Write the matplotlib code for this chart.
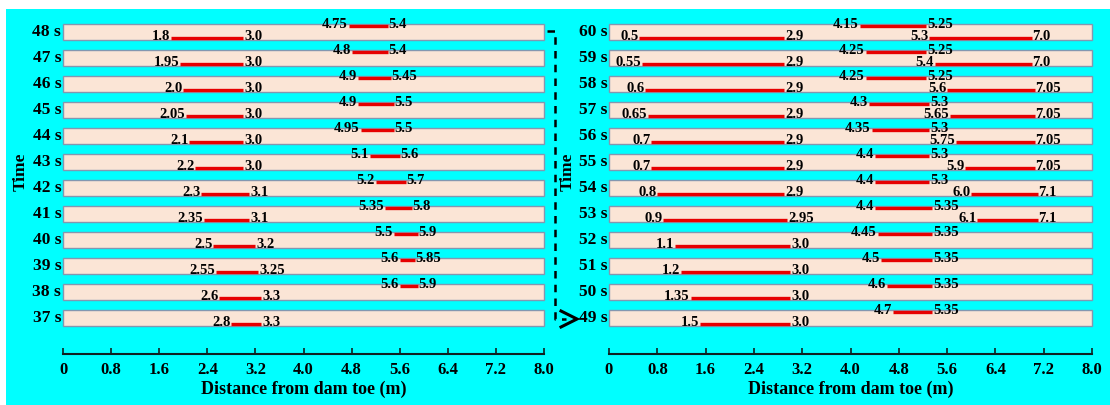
import numpy as np
import matplotlib
matplotlib.use("Agg")
import matplotlib.pyplot as plt
from matplotlib.lines import Line2D
from matplotlib.patches import Rectangle

# ---------------- data ----------------
left_times = [48, 47, 46, 45, 44, 43, 42, 41, 40, 39, 38, 37]
left_lower_start = [1.8, 1.95, 2.0, 2.05, 2.1, 2.2, 2.3, 2.35, 2.5, 2.55, 2.6, 2.8]
left_lower_end = [3.0, 3.0, 3.0, 3.0, 3.0, 3.0, 3.1, 3.1, 3.2, 3.25, 3.3, 3.3]
left_upper_start = [4.75, 4.8, 4.9, 4.9, 4.95, 5.1, 5.2, 5.35, 5.5, 5.6, 5.6, None]
left_upper_end = [5.4, 5.4, 5.45, 5.5, 5.5, 5.6, 5.7, 5.8, 5.9, 5.85, 5.9, None]

right_times = [60, 59, 58, 57, 56, 55, 54, 53, 52, 51, 50, 49]
right_lower_start = [0.5, 0.55, 0.6, 0.65, 0.7, 0.7, 0.8, 0.9, 1.1, 1.2, 1.35, 1.5]
right_lower_end = [2.9, 2.9, 2.9, 2.9, 2.9, 2.9, 2.9, 2.95, 3.0, 3.0, 3.0, 3.0]
right_upper_start = [4.15, 4.25, 4.25, 4.3, 4.35, 4.4, 4.4, 4.4, 4.45, 4.5, 4.6, 4.7]
right_upper_end = [5.25, 5.25, 5.25, 5.3, 5.3, 5.3, 5.3, 5.35, 5.35, 5.35, 5.35, 5.35]
right_third_start = [5.3, 5.4, 5.6, 5.65, 5.75, 5.9, 6.0, 6.1, None, None, None, None]
right_third_end = [7.0, 7.0, 7.05, 7.05, 7.05, 7.05, 7.1, 7.1, None, None, None, None]

x_ticks = [0, 0.8, 1.6, 2.4, 3.2, 4.0, 4.8, 5.6, 6.4, 7.2, 8.0]
x_tick_labels = ["0", "0.8", "1.6", "2.4", "3.2", "4.0", "4.8", "5.6", "6.4", "7.2", "8.0"]
x_max = 8.0
x_label = "Distance from dam toe (m)"
y_label = "Time"

# ---------------- style ----------------
plt.rcParams['font.family'] = ['Liberation Serif', 'DejaVu Serif']
plt.rcParams['font.weight'] = 'bold'

W, H = 1110, 405
fig = plt.figure(figsize=(W / 100, H / 100), dpi=100, facecolor='white')
fig.patches.append(Rectangle((6 / W, 0), 1 - 6 / W, (H - 9) / H,
                             transform=fig.transFigure, facecolor='#00FFFF',
                             edgecolor='none', zorder=-5))

CYAN_RECT = '#FBE5D6'
EDGE = '#8497B0'
RED = '#E60000'
BAR_H = 0.615
LINE_OFF = 0.235
VAL_FS = 10.5
ROW_FS = 12.5


def fmt(v):
    s = f"{v:.2f}"
    if s.endswith('0'):
        s = s[:-1]
    return s


def seg(ax, y, a, b, upper):
    if a is None:
        return
    yl = y + LINE_OFF if upper else y - LINE_OFF
    ax.hlines(yl, a, b, color=RED, lw=2.4, zorder=3, capstyle='butt')
    ax.text(a - 0.015, yl - 0.07, fmt(a), ha='right', va='baseline',
            fontsize=VAL_FS, fontweight='bold', zorder=4)
    ax.text(b + 0.015, yl - 0.07, fmt(b), ha='left', va='baseline',
            fontsize=VAL_FS, fontweight='bold', zorder=4)


def panel(rect, times, segs_lower, segs_upper, segs_third=None):
    ax = fig.add_axes(rect)
    ax.set_facecolor('none')
    n = len(times)
    ys = np.arange(n)[::-1]
    ax.barh(ys, [x_max] * n, left=0, height=BAR_H, color=CYAN_RECT,
            edgecolor=EDGE, linewidth=1.0, clip_on=False, zorder=2)
    for i, t in enumerate(times):
        y = ys[i]
        ax.text(-0.03, y, f"{t} s", ha='right', va='center',
                fontsize=ROW_FS, fontweight='bold')
        seg(ax, y, segs_lower[0][i], segs_lower[1][i], False)
        seg(ax, y, segs_upper[0][i], segs_upper[1][i], True)
        if segs_third is not None:
            seg(ax, y, segs_third[0][i], segs_third[1][i], False)
    ax.set_xlim(0, x_max)
    ax.set_ylim(-1.385, 11.46)
    for s in ['left', 'right', 'top']:
        ax.spines[s].set_visible(False)
    ax.spines['bottom'].set_linewidth(1.5)
    ax.spines['bottom'].set_color('#102020')
    ax.set_yticks([])
    ax.set_xticks(x_ticks)
    ax.set_xticklabels(x_tick_labels, fontsize=12, fontweight='bold')
    ax.tick_params(axis='x', direction='in', length=4, width=1.2,
                   color='#102020', pad=6)
    ax.set_xlabel(x_label, fontsize=13, fontweight='bold', labelpad=2)
    return ax


ax_bottom = (H - 354) / H
ax_height = 334 / H
panel([63 / W, ax_bottom, 481 / W, ax_height], left_times,
      (left_lower_start, left_lower_end), (left_upper_start, left_upper_end))
panel([609 / W, ax_bottom, 483 / W, ax_height], right_times,
      (right_lower_start, right_lower_end), (right_upper_start, right_upper_end),
      (right_third_start, right_third_end))

fig.text(21 / W, 1 - 172 / H, y_label, rotation=90, ha='center', va='center',
         fontsize=12.5, fontweight='bold')
fig.text(568 / W, 1 - 172 / H, y_label, rotation=90, ha='center', va='center',
         fontsize=12.5, fontweight='bold')


def P(x, y):
    return x / W, 1 - y / H


# dashed connector between panels
pts = [P(547, 31), P(555, 31), P(555, 319), P(566, 319)]
fig.add_artist(Line2D([p[0] for p in pts], [p[1] for p in pts],
                      transform=fig.transFigure, color='black', lw=1.8,
                      linestyle=(0, (3, 2.5))))
chev = [P(561, 311), P(577, 319), P(561, 327)]
fig.add_artist(Line2D([p[0] for p in chev], [p[1] for p in chev],
                      transform=fig.transFigure, color='black', lw=2.2,
                      solid_joinstyle='miter'))

fig.savefig('out.png', dpi=100, facecolor='white')
